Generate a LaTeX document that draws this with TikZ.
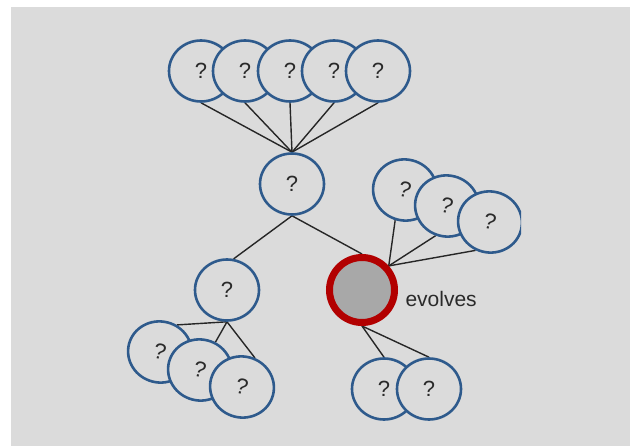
\documentclass[tikz,border=0pt]{standalone}
\usepackage{fontspec}
\setmainfont{Liberation Sans}
\usetikzlibrary{shapes.geometric}
\pgfdeclarelayer{canvas}
\pgfdeclarelayer{links}
\pgfsetlayers{canvas,links,main}
\definecolor{bggray}{HTML}{DBDBDB}
\definecolor{ringblue}{HTML}{2E5A8C}
\definecolor{ringred}{HTML}{B20000}
\definecolor{coregray}{HTML}{A8A8A8}
\definecolor{inkgray}{HTML}{2A2A2A}
\begin{document}
\begin{tikzpicture}[x=1pt,y=-1pt,
  q/.style={ellipse, draw=ringblue, line width=2.6pt, fill=bggray,
    minimum width=64pt, minimum height=61pt, inner sep=0pt,
    font=\fontsize{22}{22}\selectfont, text=inkgray},
  tilted/.style={q, rotate=-14},
  link/.style={line width=1.4pt, draw=black!85},
  focus/.style={circle, draw=ringred, line width=7pt, fill=coregray,
    minimum size=65pt, inner sep=0pt}]
\useasboundingbox (0,0) rectangle (630,446);
\begin{pgfonlayer}{canvas}
  \fill[white] (0,0) rectangle (630,446);
  \fill[bggray] (11,7) rectangle (630,446);
\end{pgfonlayer}

% top row of candidates
\node[q] (t1) at (201,71) {?};
\node[q] (t2) at (245,71) {?};
\node[q] (t3) at (290,71) {?};
\node[q] (t4) at (334,71) {?};
\node[q] (t5) at (378,71) {?};

% middle node and its two children
\node[q] (mid) at (292,184) {?};
\node[q] (lc) at (227,290) {?};
\node[focus] (red) at (362,290) {};
\node[anchor=base west, font=\fontsize{21}{21}\selectfont, text=inkgray]
  (lbl) at (402,307) {evolves};

% cluster above the evolving node (cut at the right)
\begin{scope}
  \clip (0,0) rectangle (521,446);
  \node[tilted] (r1) at (405,190) {?};
  \node[tilted] (r2) at (447,206) {?};
  \node[tilted] (r3) at (490,222) {?};
\end{scope}

% cluster below the left child
\node[tilted] (b1) at (160,352) {?};
\node[tilted] (b2) at (200,370) {?};
\node[tilted] (b3) at (242,387) {?};

% pair below the evolving node
\node[q] (p1) at (384,389) {?};
\node[q] (p2) at (429,389) {?};

\begin{pgfonlayer}{links}
  \foreach \t in {t1,t2,t3,t4,t5}
    \draw[link] (mid.north) -- (\t.south);
  \draw[link] (mid.south) -- (lc.78);
  \draw[link] (mid.south) -- (red.north);
  \draw[link] (red.42) -- (r1.266);
  \draw[link] (red.42) -- (r2.263);
  \draw[link] (red.42) -- (r3.257);
  \draw[link] (lc.south) -- (b1.72);
  \draw[link] (lc.south) -- (b2.75);
  \draw[link] (lc.south) -- (b3.80);
  \draw[link] (red.south) -- (p1.north);
  \draw[link] (red.south) -- (p2.north);
\end{pgfonlayer}
\end{tikzpicture}
\end{document}
